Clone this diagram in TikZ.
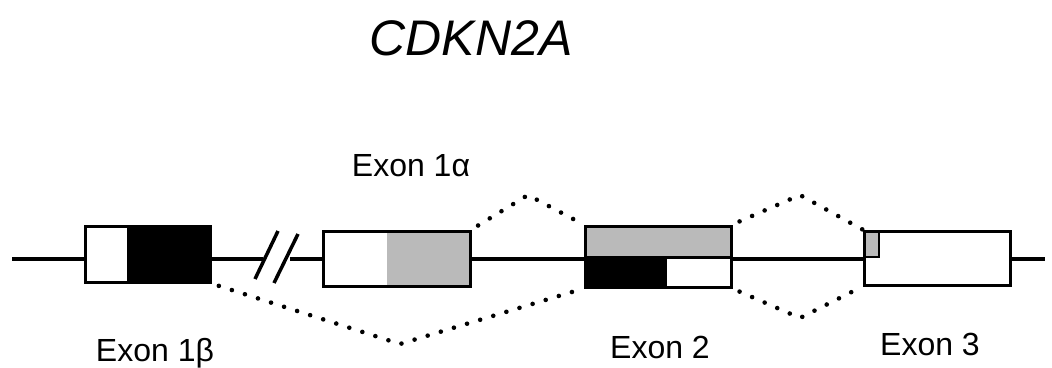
\documentclass[tikz,border=0pt]{standalone}
\usepackage{fontspec}
\setmainfont{Liberation Sans}
\usetikzlibrary{calc,backgrounds}
\begin{document}
\begin{tikzpicture}[x=1pt,y=-1pt,
  exonbox/.style={draw, line width=3pt, fill=white, rectangle, inner sep=0pt},
  backbone/.style={line width=4.5pt},
  splice/.style={line width=4.6pt, line cap=round, dash pattern=on 0pt off 13.7pt, dash phase=6pt},
  slashmark/.style={line width=3.5pt},
  lbl/.style={font=\fontsize{32}{36}\selectfont, anchor=base},
  hatch/.style={fill=black!27}]
\useasboundingbox (0,0) rectangle (1052,367);

% exon boxes
\node[exonbox, minimum width=125pt, minimum height=56pt,
  path picture={\fill[black] ($(path picture bounding box.south west)+(42,0)$) rectangle (path picture bounding box.north east);}]
  (e1b) at (147.5,254) {};
\node[exonbox, minimum width=147pt, minimum height=55pt,
  path picture={\fill[hatch] ($(path picture bounding box.south west)+(64,0)$) rectangle (path picture bounding box.north east);}]
  (e1a) at (396.5,258.5) {};
\node[exonbox, minimum width=146pt, minimum height=61pt,
  path picture={
    \fill[hatch] (path picture bounding box.north west) rectangle ($(path picture bounding box.north east)+(0,31)$);
    \fill[black] (path picture bounding box.south west) rectangle ($(path picture bounding box.north west)+(82,31)$);
    \draw[line width=3pt] ($(path picture bounding box.north west)+(0,31)$) -- ($(path picture bounding box.north east)+(0,31)$);}]
  (e2) at (658,256.5) {};
\node[exonbox, minimum width=146pt, minimum height=54pt,
  path picture={
    \filldraw[hatch, draw=black, line width=2.5pt] (path picture bounding box.north west) rectangle ($(path picture bounding box.north west)+(15,26)$);}]
  (e3) at (937,258) {};

% backbone with break
\coordinate (bl) at (12,259);
\coordinate (b1) at (263,259);
\coordinate (b2) at (290,259);
\coordinate (br) at (1045,259);
\begin{pgfonlayer}{background}
\draw[backbone] (bl) -- (b1);
\draw[backbone] (b2) -- (br);
\end{pgfonlayer}
\coordinate (s1a) at (255,279);
\coordinate (s1b) at (278,231);
\coordinate (s2a) at (274,283);
\coordinate (s2b) at (298,234);
\draw[slashmark] (s1a) -- (s1b);
\draw[slashmark] (s2a) -- (s2b);

% splice connectors
\coordinate (v1) at (400,344);
\coordinate (p1) at (528,195);
\coordinate (p2) at (800,195);
\coordinate (v2) at (800,318);
\draw[splice] (e1b.south east) -- (v1) -- (e2.south west);
\draw[splice] (e1a.north east) -- (p1) -- (e2.north west);
\draw[splice] (e2.north east) -- (p2) -- (e3.north west);
\draw[splice] (e2.south east) -- (v2) -- (e3.south west);

% labels
\node[lbl] (l1b) at (155,361) {Exon 1β};
\node[lbl] (l1a) at (411,176) {Exon 1α};
\node[lbl] (l2) at (660,358) {Exon 2};
\node[lbl] (l3) at (930,355) {Exon 3};
\node[font=\fontsize{50}{60}\selectfont\itshape, anchor=base] (title) at (471,55) {CDKN2A};
\end{tikzpicture}
\end{document}
